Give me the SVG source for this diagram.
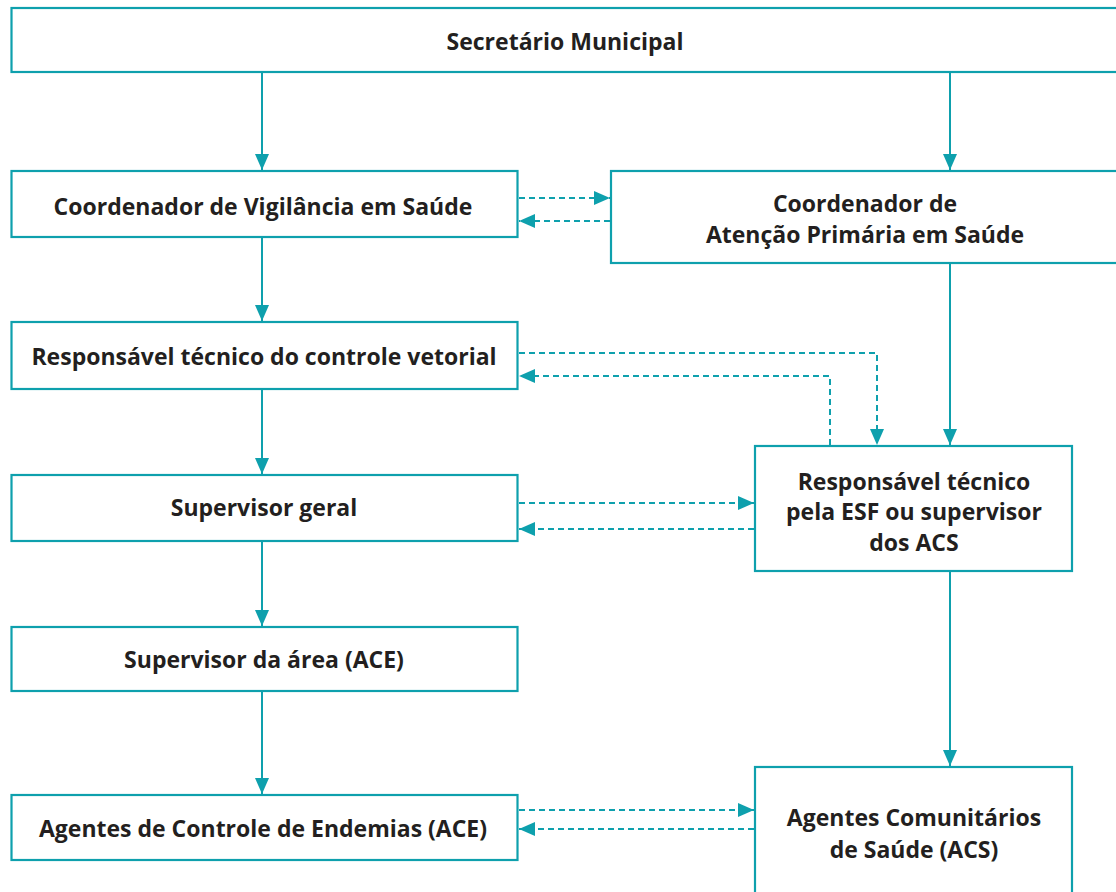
<svg xmlns="http://www.w3.org/2000/svg" width="1116" height="892" viewBox="0 0 1116 892">
<style>
.box{fill:#fff;stroke:#0ea0ad;stroke-width:2.2}
.t{font-family:"Open Sans","Liberation Sans",Arial,sans-serif;font-weight:bold;font-size:23px;fill:#231f20;text-anchor:middle;dominant-baseline:central}
.s{fill:none;stroke:#0ea0ad;stroke-width:2}
.d{fill:none;stroke:#0ea0ad;stroke-width:2;stroke-dasharray:6,4}
</style>
<defs>
<marker id="ah" viewBox="0 0 16 14" refX="16" refY="7" markerWidth="16" markerHeight="14" markerUnits="userSpaceOnUse" orient="auto">
<path d="M0,0 L16,7 L0,14 Z" fill="#0ea0ad"/>
</marker>
</defs>
<rect width="1116" height="892" fill="#fff"/>
<g id="n-secretario"><rect class="box" x="11.5" y="8" width="1120" height="64"/><text class="t" x="565" y="41">Secretário Municipal</text></g>
<g id="n-coord-vig"><rect class="box" x="11.5" y="171" width="506" height="66"/><text class="t" x="263" y="206">Coordenador de Vigilância em Saúde</text></g>
<g id="n-coord-aps"><rect class="box" x="611" y="171" width="520" height="92"/><text class="t" x="865" y="203">Coordenador de</text><text class="t" x="865" y="234">Atenção Primária em Saúde</text></g>
<g id="n-resp-vet"><rect class="box" x="11.5" y="322" width="506" height="67"/><text class="t" x="264" y="356">Responsável técnico do controle vetorial</text></g>
<g id="n-sup-geral"><rect class="box" x="11.5" y="475" width="506" height="66"/><text class="t" x="264" y="507">Supervisor geral</text></g>
<g id="n-sup-area"><rect class="box" x="11.5" y="627" width="506" height="64"/><text class="t" x="264" y="659">Supervisor da área (ACE)</text></g>
<g id="n-ace"><rect class="box" x="11.5" y="795" width="506" height="65"/><text class="t" x="263" y="828">Agentes de Controle de Endemias (ACE)</text></g>
<g id="n-resp-esf"><rect class="box" x="755" y="446" width="317" height="125"/><text class="t" x="914" y="481">Responsável técnico</text><text class="t" x="914" y="511">pela ESF ou supervisor</text><text class="t" x="914" y="542">dos ACS</text></g>
<g id="n-acs"><rect class="box" x="755" y="767" width="317" height="140"/><text class="t" x="914" y="817">Agentes Comunitários</text><text class="t" x="914" y="849">de Saúde (ACS)</text></g>
<g id="connectors">
<line class="s" x1="262" y1="73" x2="262" y2="170" marker-end="url(#ah)"/>
<line class="s" x1="950" y1="73" x2="950" y2="170" marker-end="url(#ah)"/>
<line class="s" x1="262" y1="238" x2="262" y2="321" marker-end="url(#ah)"/>
<line class="s" x1="262" y1="390" x2="262" y2="474" marker-end="url(#ah)"/>
<line class="s" x1="262" y1="542" x2="262" y2="626" marker-end="url(#ah)"/>
<line class="s" x1="262" y1="692" x2="262" y2="794" marker-end="url(#ah)"/>
<line class="s" x1="950" y1="264" x2="950" y2="445" marker-end="url(#ah)"/>
<line class="s" x1="950" y1="572" x2="950" y2="766" marker-end="url(#ah)"/>
<line class="d" x1="519" y1="198" x2="610" y2="198" marker-end="url(#ah)"/>
<line class="d" x1="610" y1="221" x2="519" y2="221" marker-end="url(#ah)"/>
<polyline class="d" points="519,353 877,353 877,445" marker-end="url(#ah)"/>
<polyline class="d" points="830,445 830,376 519,376" marker-end="url(#ah)"/>
<line class="d" x1="519" y1="503" x2="754" y2="503" marker-end="url(#ah)"/>
<line class="d" x1="754" y1="529" x2="519" y2="529" marker-end="url(#ah)"/>
<line class="d" x1="519" y1="810" x2="754" y2="810" marker-end="url(#ah)"/>
<line class="d" x1="754" y1="829" x2="519" y2="829" marker-end="url(#ah)"/>
</g>
</svg>
